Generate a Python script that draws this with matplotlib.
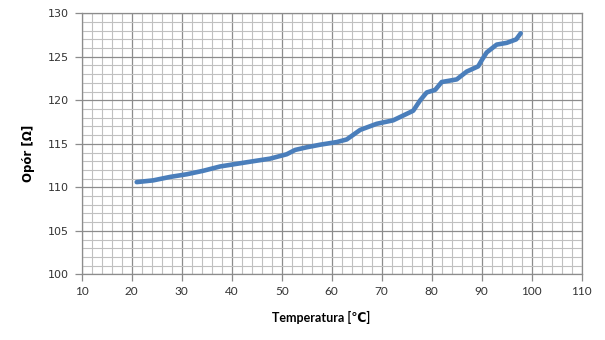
import numpy as np
import matplotlib.pyplot as plt
from matplotlib.ticker import MultipleLocator

# values
temperature = [21.0, 24.3, 27.7, 31.0, 34.3, 37.7, 41.0, 44.3, 47.7, 51.0, 52.7, 55.0,
               57.7, 61.0, 63.0, 65.7, 69.0, 72.3, 76.3, 77.7, 79.0, 80.7, 82.0, 85.0,
               87.0, 89.3, 90.0, 91.0, 93.0, 95.0, 96.9, 97.8]
resistance = [110.6, 110.8, 111.2, 111.5, 111.9, 112.4, 112.7, 113.0, 113.3, 113.8, 114.3, 114.6,
              114.9, 115.2, 115.5, 116.6, 117.3, 117.7, 118.8, 120.0, 120.9, 121.2, 122.1, 122.4,
              123.3, 123.9, 124.6, 125.5, 126.4, 126.6, 127.0, 127.7]

x_label = 'Temperatura [℃]'
y_label = 'Opór [Ω]'

fig = plt.figure(figsize=(6.05, 3.4), dpi=100)
ax = fig.add_axes([0.135, 0.193, 0.8265, 0.768])

ax.set_xlim(10, 110)
ax.set_ylim(100, 130)
ax.xaxis.set_major_locator(MultipleLocator(10))
ax.xaxis.set_minor_locator(MultipleLocator(2))
ax.yaxis.set_major_locator(MultipleLocator(5))
ax.yaxis.set_minor_locator(MultipleLocator(1))

ax.grid(which='minor', color='#c0c0c0', linewidth=0.8, zorder=0)
ax.grid(which='major', color='#8c8c8c', linewidth=0.9, zorder=0)
ax.set_axisbelow(True)

for s in ax.spines.values():
    s.set_color('#8c8c8c')
    s.set_linewidth(0.9)

ax.tick_params(which='major', length=5, color='#8c8c8c', width=0.9)
ax.tick_params(which='minor', length=0)
ax.tick_params(axis='x', labelsize=8.5, pad=3.5)
ax.tick_params(axis='y', labelsize=8, pad=4)
for lbl in ax.get_xticklabels():
    lbl.set_family(['Lato', 'DejaVu Sans'])
    lbl.set_color('#333333')
for lbl in ax.get_yticklabels():
    lbl.set_family('DejaVu Sans')
    lbl.set_color('#333333')

ax.plot(temperature, resistance, color='#4a7ebb', linewidth=3.3,
        solid_capstyle='round', solid_joinstyle='round', zorder=3)

ax.set_xlabel(x_label, fontsize=9, fontweight='bold', family=['Lato', 'DejaVu Sans'])
ax.xaxis.set_label_coords(0.478, -0.142)
ax.set_ylabel(y_label, fontsize=8.5, fontweight='bold', family='DejaVu Sans')
ax.yaxis.set_label_coords(-0.094, 0.463)

fig.savefig('out.png', dpi=100)
